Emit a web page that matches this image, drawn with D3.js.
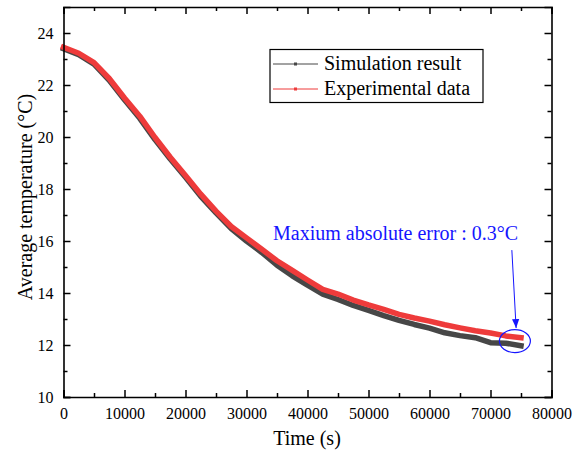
<!DOCTYPE html>
<html>
<head>
  <meta charset="utf-8">
  <script src="https://d3js.org/d3.v7.min.js"></script>
  <style>
    body { margin: 0; background: #fff; }
  </style>
</head>
<body>
<div id="plot1"></div>
<script>
// time (s)
var times = [0, 2500, 5000, 7500, 10000, 12500, 15000, 17500, 20000, 22500, 25000,
  27500, 30000, 32500, 35000, 37500, 40000, 42500, 45000, 47500, 50000,
  52500, 55000, 57500, 60000, 62500, 65000, 67500, 70000, 72500, 75000];

// average temperature (°C)
var simulation = [23.40, 23.17, 22.80, 22.18, 21.43, 20.72, 19.90, 19.15, 18.45, 17.72, 17.08,
  16.48, 16.00, 15.56, 15.07, 14.66, 14.30, 13.96, 13.75, 13.52, 13.33,
  13.13, 12.95, 12.79, 12.65, 12.47, 12.36, 12.28, 12.09, 12.07, 11.97];

var experimental = [23.45, 23.22, 22.86, 22.25, 21.50, 20.80, 19.98, 19.22, 18.52, 17.80, 17.15,
  16.56, 16.12, 15.68, 15.24, 14.87, 14.50, 14.14, 13.96, 13.73, 13.54,
  13.37, 13.18, 13.04, 12.92, 12.78, 12.66, 12.55, 12.46, 12.35, 12.28];

var seriesNames = ["Simulation result", "Experimental data"];
var xTicks = [0, 10000, 20000, 30000, 40000, 50000, 60000, 70000, 80000];
var yTicks = [10, 12, 14, 16, 18, 20, 22, 24];
var note = "Maxium absolute error : 0.3°C";

var width = 584, height = 454;
var colors = ["#474747", "#ee3b3b"];
var serif = 'Liberation Serif';

var svg = d3.select('#plot1')
  .append('svg')
  .attr('width', width)
  .attr('height', height)
  .style('font-family', serif);

var xScale = d3.scaleLinear().domain([0, 80000]).range([63.5, 551.5]);
var yScale = d3.scaleLinear().domain([10, 25]).range([397, 7]);

var x0 = xScale.range()[0], x1 = xScale.range()[1];
var y0 = yScale.range()[0], y1 = yScale.range()[1];

// data lines
var line = d3.line()
  .x(function(d){ return xScale(d[0]); })
  .y(function(d){ return yScale(d[1]); });

[simulation, experimental].forEach(function(vals, i){
  svg.append('path')
    .datum(times.map(function(t, j){ return [t, vals[j]]; }))
    .attr('d', line)
    .attr('fill', 'none')
    .attr('stroke', colors[i])
    .attr('stroke-width', 5.5)
    .attr('stroke-linejoin', 'round')
    .attr('stroke-linecap', 'square');
});

// axes: ticks pointing inward, minor ticks between
var xMinor = d3.range(5000, 80000, 10000);
var yMinor = d3.range(11, 25, 2);

function tickAxis(axisFn, scale, major, minor, pos, label) {
  var g = svg.append('g').attr('transform', pos);
  g.call(axisFn(scale).tickValues(major).tickSize(-7).tickFormat(label ? d3.format('d') : ''));
  g.append('g').call(axisFn(scale).tickValues(minor).tickSize(-4).tickFormat(''))
    .select('.domain').remove();
  g.selectAll('.domain').attr('stroke', '#000').attr('stroke-width', 1.6);
  g.selectAll('line').attr('stroke', '#000').attr('stroke-width', 1.5);
  g.selectAll('text')
    .attr('fill', '#000')
    .style('font-family', serif)
    .style('font-size', '16px');
  return g;
}

var xb = tickAxis(d3.axisBottom, xScale, xTicks, xMinor, 'translate(0,' + y0 + ')', true);
xb.selectAll('text').attr('y', 11).attr('dy', '0.71em');
tickAxis(d3.axisTop, xScale, xTicks, xMinor, 'translate(0,' + y1 + ')', false);
var yl = tickAxis(d3.axisLeft, yScale, yTicks, yMinor, 'translate(' + x0 + ',0)', true);
yl.selectAll('text').attr('x', -10);
tickAxis(d3.axisRight, yScale, yTicks, yMinor, 'translate(' + x1 + ',0)', false);

// axis titles
svg.append('text')
  .style('font-family', serif)
  .style('font-size', '20px')
  .attr('x', 307)
  .attr('y', 445)
  .attr('text-anchor', 'middle')
  .text('Time (s)');

svg.append('text')
  .style('font-family', serif)
  .style('font-size', '20px')
  .attr('transform', 'translate(32,197) rotate(-90)')
  .attr('text-anchor', 'middle')
  .text('Average temperature (°C)');

// legend
var legend = svg.append('g').attr('transform', 'translate(270,49.5)');
legend.append('rect')
  .attr('width', 213).attr('height', 53)
  .attr('fill', '#fff').attr('stroke', '#000').attr('stroke-width', 1.2);

seriesNames.forEach(function(name, i){
  var ly = 14.5 + i * 25;
  legend.append('line')
    .attr('x1', 3).attr('x2', 48).attr('y1', ly).attr('y2', ly)
    .attr('stroke', colors[i]).attr('stroke-width', 1);
  legend.append('rect')
    .attr('x', 24).attr('y', ly - 1.5).attr('width', 3).attr('height', 3)
    .attr('fill', colors[i]);
  legend.append('text')
    .attr('x', 54).attr('y', ly + 5.5)
    .style('font-size', '20px')
    .style('font-family', serif)
    .text(name);
});

// annotation
svg.append('text')
  .attr('x', 273)
  .attr('y', 240)
  .style('font-size', '20px')
  .style('font-family', serif)
  .attr('fill', '#1515ff')
  .text(note);

svg.append('defs').append('marker')
  .attr('id', 'arrow')
  .attr('viewBox', '0 0 10 10')
  .attr('refX', 10).attr('refY', 5)
  .attr('markerWidth', 9).attr('markerHeight', 9)
  .attr('markerUnits', 'userSpaceOnUse')
  .attr('orient', 'auto')
  .append('path')
  .attr('d', 'M0,1 L10,5 L0,9 Z')
  .attr('fill', '#1515ff');

svg.append('line')
  .attr('x1', xScale(73500)).attr('y1', yScale(15.65))
  .attr('x2', xScale(74200)).attr('y2', yScale(12.65))
  .attr('stroke', '#1515ff').attr('stroke-width', 1)
  .attr('marker-end', 'url(#arrow)');

svg.append('ellipse')
  .attr('cx', xScale(74000)).attr('cy', yScale(12.15))
  .attr('rx', 15.5).attr('ry', 11.5)
  .attr('fill', 'none')
  .attr('stroke', '#1515ff').attr('stroke-width', 1.2);
</script>
</body>
</html>
